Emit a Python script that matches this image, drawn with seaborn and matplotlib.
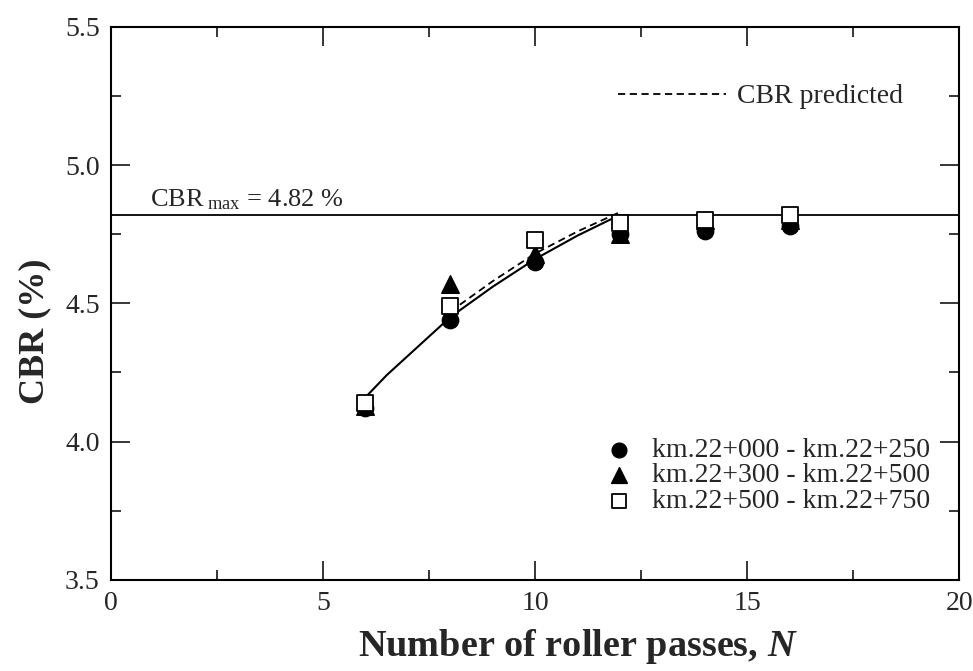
import pandas as pd
import matplotlib.pyplot as plt
import seaborn as sns
import numpy as np
from matplotlib.lines import Line2D
from matplotlib.ticker import MultipleLocator

passes = [6, 8, 10, 12, 14, 16]
cbr_a = [4.12, 4.44, 4.65, 4.75, 4.76, 4.78]   # km.22+000 - km.22+250
cbr_b = [4.13, 4.57, 4.68, 4.75, 4.80, 4.80]   # km.22+300 - km.22+500
cbr_c = [4.14, 4.49, 4.73, 4.79, 4.80, 4.82]   # km.22+500 - km.22+750
labels = ["km.22+000 - km.22+250", "km.22+300 - km.22+500", "km.22+500 - km.22+750"]

fit_n = [6, 6.5, 7, 7.5, 8, 9, 10, 11, 12]
fit_cbr = [4.16, 4.24, 4.31, 4.38, 4.45, 4.56, 4.66, 4.745, 4.82]
pred_n = [8, 9, 10, 11, 12]
pred_cbr = [4.47, 4.58, 4.68, 4.76, 4.83]
cbr_max = 4.82

sns.set_style("ticks")
plt.rcParams['font.family'] = ['Liberation Serif', 'DejaVu Serif']
plt.rcParams['mathtext.fontset'] = 'custom'
plt.rcParams['mathtext.rm'] = 'Liberation Serif'
plt.rcParams['mathtext.it'] = 'Liberation Serif:italic'
plt.rcParams['mathtext.bf'] = 'Liberation Serif:bold'
plt.rcParams['mathtext.bfit'] = 'Liberation Serif:bold:italic'

pts = pd.DataFrame({
    'N': passes * 3,
    'CBR': cbr_a + cbr_b + cbr_c,
    'Section': [labels[0]] * 6 + [labels[1]] * 6 + [labels[2]] * 6,
})

fig = plt.figure(figsize=(9.73, 6.71), dpi=100)
ax = fig.add_axes([0.114, 0.136, 0.872, 0.824])

ax.axhline(cbr_max, color='black', lw=1.3, zorder=1)
sns.lineplot(x=fit_n, y=fit_cbr, ax=ax, color='black', lw=1.5, zorder=2)
sns.lineplot(x=pred_n, y=pred_cbr, ax=ax, color='black', lw=1.3, linestyle=(0, (4, 2.5)), zorder=2)

sns.scatterplot(data=pts[pts.Section == labels[0]], x='N', y='CBR', marker='o', s=140,
                color='black', edgecolor='black', ax=ax, zorder=3, label=labels[0])
sns.scatterplot(data=pts[pts.Section == labels[1]], x='N', y='CBR', marker='^', s=160,
                color='black', edgecolor='black', ax=ax, zorder=4, label=labels[1])
sns.scatterplot(data=pts[pts.Section == labels[2]], x='N', y='CBR', marker='s', s=140,
                color='white', edgecolor='black', linewidth=1.3, ax=ax, zorder=5, label=labels[2])

ax.text(0.92, cbr_max + 0.012, r'CBR$_{\rm\ max}$ = 4.82 %', fontsize=19, ha='left', va='bottom')

ax.set_xlim(0, 20)
ax.set_ylim(3.5, 5.5)
ax.xaxis.set_major_locator(MultipleLocator(5))
ax.xaxis.set_minor_locator(MultipleLocator(2.5))
ax.yaxis.set_major_locator(MultipleLocator(0.5))
ax.yaxis.set_minor_locator(MultipleLocator(0.25))
ax.yaxis.set_major_formatter(plt.FormatStrFormatter('%.1f'))
ax.tick_params(which='both', direction='in', top=True, right=True, width=1.3)
ax.tick_params(which='major', length=14, labelsize=20, pad=8)
ax.tick_params(which='minor', length=7)
for s in ax.spines.values():
    s.set_linewidth(1.5)
    s.set_color('black')

ax.set_xlabel(r'Number of roller passes, $\mathbfit{N}$', fontsize=27.5, fontweight='bold')
ax.set_ylabel('CBR (%)', fontsize=26, fontweight='bold')
ax.xaxis.set_label_coords(0.55, -0.085)
ax.yaxis.set_label_coords(-0.07, 0.45)

leg1 = ax.legend(loc='lower right', bbox_to_anchor=(0.985, 0.089), frameon=False, fontsize=20,
                 handletextpad=0.2, labelspacing=0.0, borderaxespad=0.2, markerscale=0.9)
ax.add_artist(leg1)
pred_handle = Line2D([], [], color='black', lw=1.3, linestyle=(0, (4, 2.5)))
ax.legend([pred_handle], ['CBR predicted'], loc='upper right', bbox_to_anchor=(0.963, 0.942),
          frameon=False, fontsize=20, handlelength=3.9, handletextpad=0.4)

fig.savefig('out.png', dpi=100)
